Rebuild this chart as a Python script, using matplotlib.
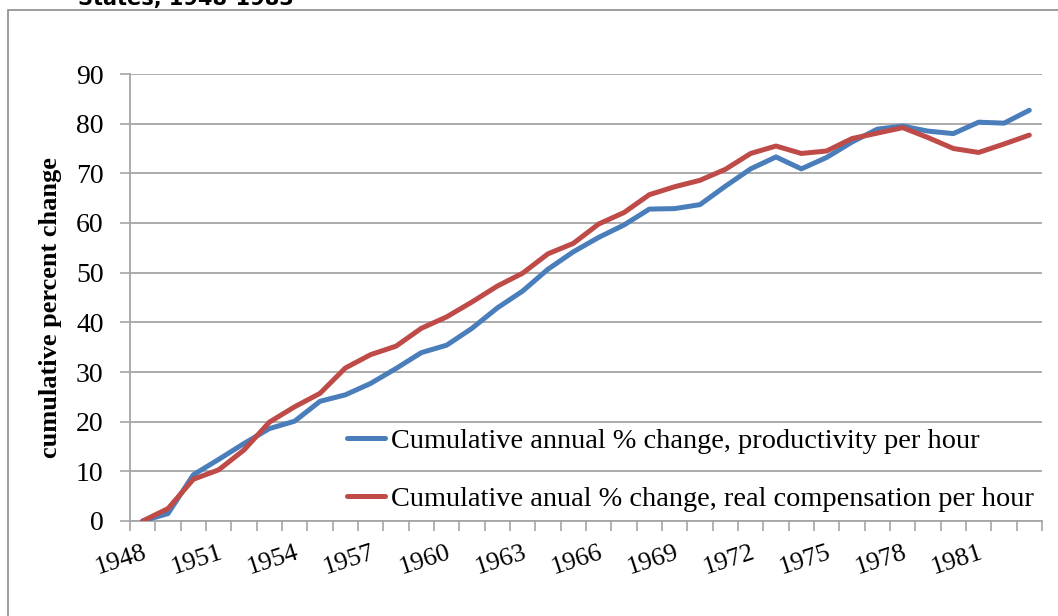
import matplotlib
matplotlib.use("Agg")
import matplotlib.pyplot as plt
from matplotlib.patches import Rectangle

years = list(range(1948, 1984))
productivity = [0.0, 1.5, 9.3, 12.4, 15.6, 18.6, 20.1, 24.1, 25.4, 27.7,
                30.7, 33.9, 35.4, 38.8, 42.9, 46.3, 50.7, 54.2, 57.1, 59.6,
                62.8, 62.9, 63.7, 67.4, 70.9, 73.3, 70.9, 73.2, 76.3, 78.9,
                79.5, 78.5, 78.0, 80.3, 80.1, 82.7]
compensation = [0.0, 2.5, 8.4, 10.3, 14.3, 19.9, 23.0, 25.7, 30.8, 33.5,
                35.2, 38.8, 41.1, 44.1, 47.3, 49.9, 53.8, 55.9, 59.8, 62.1,
                65.7, 67.3, 68.6, 70.8, 74.0, 75.5, 74.0, 74.5, 77.0, 78.1,
                79.2, 77.2, 75.0, 74.2, 75.9, 77.7]
label_prod = "Cumulative annual % change, productivity per hour"
label_comp = "Cumulative anual % change, real compensation per hour"
y_label = "cumulative percent change"
title_fragment = "States, 1948-1983"
yticks = list(range(0, 100, 10))

W, H = 1058, 616
fig = plt.figure(figsize=(W / 100, H / 100), dpi=100)
serif = ["Liberation Serif", "DejaVu Serif"]

# outer chart frame (extends beyond the image on right and bottom)
fig.patches.append(Rectangle((8 / W, -0.1), 1.2, (H - 10) / H + 0.1,
                             transform=fig.transFigure, fill=False,
                             edgecolor="#8c8c8c", linewidth=1.2))
fig.text(78 / W, 1 - 5 / H, title_fragment, fontsize=15, fontweight="bold",
         family="DejaVu Sans", ha="left", va="baseline")

ax = fig.add_axes([130 / W, 95 / H, (1042 - 130) / W, 447 / H])
x = list(range(len(years)))
grid_c = "#a6a6a6"
ax.plot(x, productivity, color="#4a7ebb", lw=3.6, label=label_prod,
        solid_capstyle="round", solid_joinstyle="round", zorder=3)
ax.plot(x, compensation, color="#be4b48", lw=3.6, label=label_comp,
        solid_capstyle="round", solid_joinstyle="round", zorder=4)

ax.set_xlim(-0.5, len(years) - 0.5)
ax.set_ylim(0, 90)
ax.set_yticks(yticks)
ax.set_yticklabels([str(v) for v in yticks], family=serif, fontsize=20)
ax.yaxis.grid(True, color=grid_c, lw=1.3)
ax.set_axisbelow(True)

ax.set_xticks([i - 0.5 for i in range(len(years) + 1)])
ax.set_xticklabels([])
ax.set_xticks(x[::3], minor=True)
ax.set_xticklabels([str(y) for y in years[::3]], minor=True, family=serif,
                   fontsize=19, rotation=18, ha="right", va="top",
                   rotation_mode="anchor")
ax.tick_params(axis="x", which="minor", length=0, pad=15)
ax.tick_params(axis="x", which="major", length=7, color=grid_c, width=1.2)
ax.tick_params(axis="y", length=7, color=grid_c, width=1.2, pad=12)

for s in ["top", "right"]:
    ax.spines[s].set_visible(False)
for s in ["left", "bottom"]:
    ax.spines[s].set_color(grid_c)
    ax.spines[s].set_linewidth(1.3)

ax.set_ylabel(y_label, family=serif, fontsize=19, fontweight="bold")
ax.yaxis.set_label_coords(62 / W, 0.5, transform=fig.transFigure)

ax.legend(loc="upper left", bbox_to_anchor=(347 / W, 1 - 428 / H),
          bbox_transform=fig.transFigure, frameon=False,
          prop={"family": serif, "size": 20.4}, handlelength=1.35,
          handletextpad=0.2, labelspacing=1.13, borderpad=0,
          borderaxespad=0)

fig.savefig("out.png", dpi=100)
